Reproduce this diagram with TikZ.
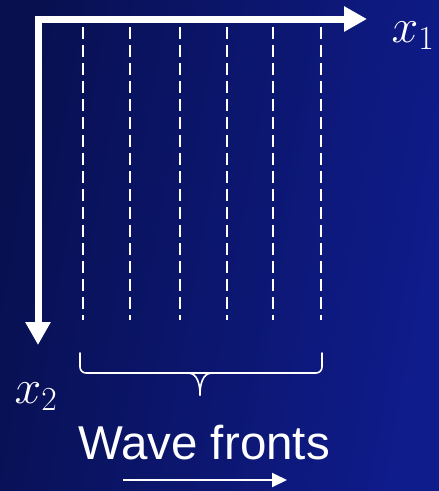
\documentclass[tikz,border=0pt]{standalone}
\usepackage{fix-cm}
\usepackage{fontspec}
\setmainfont{Liberation Sans}
\usepackage{tikz}
\usetikzlibrary{arrows.meta,positioning,calc}
\definecolor{bgleft}{RGB}{8,16,80}
\definecolor{bgright}{RGB}{15,28,140}

\begin{document}
\begin{tikzpicture}[
    x=1pt, y=-1pt,
    axis/.style={white, line width=7pt, line join=miter, {Triangle[length=23pt, width=24pt]}-{Triangle[length=23pt, width=24pt]}},
    wavefront/.style={white, line width=1.8pt, dash pattern=on 12pt off 6pt},
    bracket/.style={white, line width=1.6pt, line cap=round},
    motion/.style={white, line width=2pt, -{Triangle[length=15pt, width=14pt]}},
    axlabel/.style={font=\fontsize{48}{52}\selectfont, text=white, inner sep=0pt},
]
\shade[left color=bgleft, right color=bgright, shading angle=80] (0,0) rectangle (439,491);
\useasboundingbox (0,0) rectangle (439,491);

% axes
\coordinate (o) at (38,19);
\coordinate (x1end) at (367,19);
\coordinate (x2end) at (38,345);
\draw[axis] (x2end) -- (o) -- (x1end);
\node[axlabel] (x1) at (413,36) {$x_1$};
\node[axlabel] (x2) at (36,397) {$x_2$};

% wave fronts
\foreach \x in {83,130,180,227,273,321}
    \draw[wavefront] (\x,27) -- (\x,320);

% brace under the fronts
\coordinate (bl) at (80,353);
\coordinate (br) at (322,353);
\coordinate (tip) at (200,395);
\draw[bracket, rounded corners=6pt] (bl) |- (322,373) -- (br);
\draw[bracket] (188,373) to[out=0, in=90] (tip);
\draw[bracket] (212,373) to[out=180, in=90] (tip);

\node[text=white, font=\fontsize{47.5}{52}\selectfont, inner sep=0pt, anchor=base] (title) at (204,459) {Wave fronts};

\coordinate (ms) at (123,480);
\coordinate (me) at (287,480);
\draw[motion] (ms) -- (me);

\end{tikzpicture}
\end{document}
